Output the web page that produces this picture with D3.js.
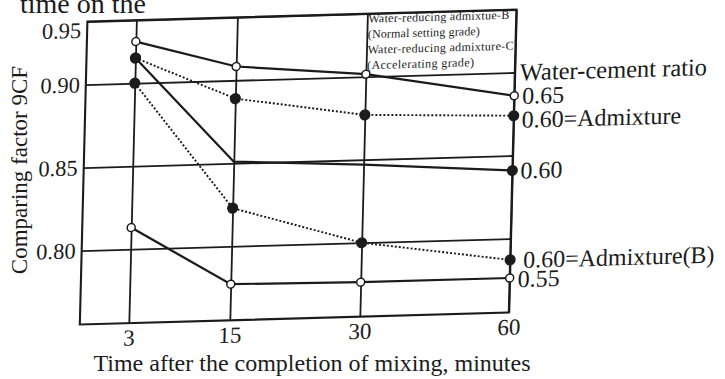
<!DOCTYPE html>
<html>
<head>
<meta charset="utf-8">
<script src="https://cdn.jsdelivr.net/npm/d3@7"></script>
<style>
  html, body { margin: 0; padding: 0; background: #fff; }
  svg { display: block; font-family: "Liberation Serif", "Times New Roman", serif; }
</style>
</head>
<body>
<div id="chart"></div>
<script>
// data
const times = [3, 15, 30, 60];
const xTickLabels = ["3", "15", "30", "60"];
const yTicks = [0.80, 0.85, 0.90, 0.95];

const wc065 = [0.933, 0.911, 0.902, 0.886];
const wc060Admix = [0.920, 0.889, 0.877, 0.874];
const wc060 = [0.920, 0.851, 0.847, 0.841];
const wc060AdmixB = [0.900, 0.823, 0.800, 0.787];
const wc055 = [0.813, 0.777, 0.776, 0.776];

const seriesLabels = ["0.65", "0.60=Admixture", "0.60", "0.60=Admixture(B)", "0.55"];
const legendLines = [
  "Water-reducing admixtue-B",
  "(Normal setting grade)",
  "Water-reducing admixture-C",
  "(Accelerating grade)"
];
const legendWidths = [141, 112, 146, 107];
const rightTitle = "Water-cement ratio";
const xTitle = "Time after the completion of mixing, minutes";
const yTitle = "Comparing factor 9CF";
const topText = "time on the";

const ink = "#1b1b1b";

// drawing options per series (style only)
const series = [
  { values: wc065,       label: seriesLabels[0], dash: null,  marker: "open",   markAt: [0, 1, 2, 3], dx: 8,  dy: 0 },
  { values: wc060Admix,  label: seriesLabels[1], dash: "2,2", marker: "filled", markAt: [0, 1, 2, 3], dx: 8,  dy: 4 },
  { values: wc060,       label: seriesLabels[2], dash: null,  marker: "filled", markAt: [0, 3],       dx: 8,  dy: 0 },
  { values: wc060AdmixB, label: seriesLabels[3], dash: "2,2", marker: "filled", markAt: [0, 1, 2, 3], dx: 13, dy: 0 },
  { values: wc055,       label: seriesLabels[4], dash: null,  marker: "open",   markAt: [0, 1, 2, 3], dx: 8,  dy: 1 }
];

const W = 725, H = 379;
const pLeft = 88, pRight = 517, pTop = 24, pBottom = 327;

const svg = d3.select("#chart").append("svg")
  .attr("width", W)
  .attr("height", H)
  .attr("viewBox", `0 0 ${W} ${H}`);

svg.append("rect").attr("width", W).attr("height", H).attr("fill", "#fff");

// the scan is slightly skewed, so the plot sits in a sheared group
const plot = svg.append("g")
  .attr("transform", "matrix(1,-0.028,-0.025,1,0,0)");

// uneven spacing comes from the page curvature in the scan
const x = d3.scaleLinear().domain(times).range([137, 238, 368, pRight]);
const y = d3.scaleLinear()
  .domain([0.755, 0.80, 0.85, 0.90, 0.95])
  .range([pBottom, 253, 170, 87, pTop]);

// y grid + tick labels
const yAxis = d3.axisLeft(y)
  .tickValues(yTicks)
  .tickSize(-(pRight - pLeft))
  .tickPadding(6)
  .tickFormat(d3.format(".2f"));

const gy = plot.append("g")
  .attr("transform", `translate(${pLeft},0)`)
  .call(yAxis);
gy.select(".domain").remove();
gy.selectAll("line").attr("stroke", ink).attr("stroke-width", 1.8);
gy.selectAll("text")
  .attr("fill", ink)
  .attr("font-family", "Liberation Serif, Times New Roman, serif")
  .attr("font-size", 22.5);
// top label sits just under the frame line in the scan
gy.selectAll("text").filter(d => d === 0.95).attr("dy", "0.7em");

// x grid + tick labels
const xAxis = d3.axisBottom(x)
  .tickValues(times)
  .tickSize(-(pBottom - pTop))
  .tickPadding(6)
  .tickFormat((d, i) => xTickLabels[i]);

const gx = plot.append("g")
  .attr("transform", `translate(0,${pBottom})`)
  .call(xAxis);
gx.select(".domain").remove();
gx.selectAll("line").attr("stroke", ink).attr("stroke-width", 1.8);
gx.selectAll("text")
  .attr("fill", ink)
  .attr("font-family", "Liberation Serif, Times New Roman, serif")
  .attr("font-size", 23);

// frame
plot.append("rect")
  .attr("x", pLeft)
  .attr("y", pTop)
  .attr("width", pRight - pLeft)
  .attr("height", pBottom - pTop)
  .attr("fill", "none")
  .attr("stroke", ink)
  .attr("stroke-width", 2.1);

// legend text in the upper right cell
plot.append("g")
  .selectAll("text")
  .data(legendLines)
  .join("text")
  .attr("x", x(30) + 1)
  .attr("y", (d, i) => y(0.95) + 9 + i * 15.5)
  .attr("font-size", 12)
  .attr("textLength", (d, i) => legendWidths[i])
  .attr("lengthAdjust", "spacing")
  .attr("fill", ink)
  .text(d => d);

// series lines
const line = d3.line()
  .x((d, i) => x(times[i]))
  .y(d => y(d));

plot.append("g")
  .selectAll("path")
  .data(series)
  .join("path")
  .attr("fill", "none")
  .attr("stroke", ink)
  .attr("stroke-width", s => s.dash ? 1.9 : 2.2)
  .attr("stroke-dasharray", s => s.dash)
  .attr("d", s => line(s.values));

// markers
series.forEach(s => {
  plot.append("g")
    .selectAll("circle")
    .data(s.markAt)
    .join("circle")
    .attr("cx", i => x(times[i]))
    .attr("cy", i => y(s.values[i]))
    .attr("r", s.marker === "open" ? 4 : 4.8)
    .attr("fill", s.marker === "open" ? "#fff" : ink)
    .attr("stroke", ink)
    .attr("stroke-width", 1.5);
});

// labels at the right end of each line
plot.append("g")
  .selectAll("text")
  .data(series)
  .join("text")
  .attr("x", s => x(60) + s.dx)
  .attr("y", s => y(s.values[3]) + s.dy)
  .attr("dy", "0.35em")
  .attr("font-size", 24)
  .attr("fill", ink)
  .text(s => s.label);

plot.append("text")
  .attr("x", pRight + 5)
  .attr("y", y(0.90) + 8)
  .attr("font-size", 24.5)
  .attr("fill", ink)
  .text(rightTitle);

// axis titles
svg.append("text")
  .attr("x", 312)
  .attr("y", 371)
  .attr("text-anchor", "middle")
  .attr("font-size", 24)
  .attr("fill", ink)
  .text(xTitle);

svg.append("text")
  .attr("transform", "translate(27,170) rotate(-90)")
  .attr("text-anchor", "middle")
  .attr("font-size", 23)
  .attr("fill", ink)
  .text(yTitle);

// fragment of the book text cut off at the top of the scan
svg.append("text")
  .attr("x", 20)
  .attr("y", 13)
  .attr("font-size", 28)
  .attr("fill", ink)
  .text(topText);
</script>
</body>
</html>
